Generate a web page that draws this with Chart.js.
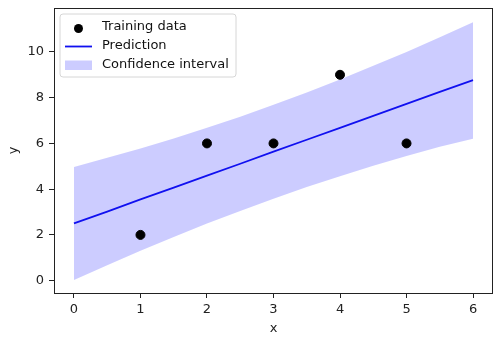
<!DOCTYPE html>
<html>
<head>
<meta charset="utf-8">
<script src="https://cdn.jsdelivr.net/npm/chart.js@4/dist/chart.umd.min.js"></script>
<style>
  html, body { margin: 0; padding: 0; background: #fff; }
  #wrap { width: 500px; height: 343px; position: relative; }
</style>
</head>
<body>
<div id="wrap"><canvas id="c" width="500" height="343"></canvas></div>
<script>
// ---- data ----
const trainX = [1, 2, 3, 4, 5];
const trainY = [2, 6, 6, 9, 6];
const gridX  = [0, 0.5, 1, 1.5, 2, 2.5, 3, 3.5, 4, 4.5, 5, 5.5, 6];
const predY  = [2.50, 3.02, 3.55, 4.07, 4.59, 5.11, 5.64, 6.16, 6.68, 7.20, 7.73, 8.25, 8.77];
const upperY = [4.97, 5.37, 5.78, 6.22, 6.68, 7.17, 7.69, 8.23, 8.79, 9.39, 10.00, 10.64, 11.30];
const lowerY = [0.03, 0.67, 1.31, 1.91, 2.50, 3.05, 3.58, 4.09, 4.56, 5.02, 5.45, 5.85, 6.20];
const xTicks = [0, 1, 2, 3, 4, 5, 6];
const yTicks = [0, 2, 4, 6, 8, 10];
const seriesLabels = ['Training data', 'Prediction', 'Confidence interval'];
const axisTitles = { x: 'x', y: 'y' };

const FONT = 'DejaVu Sans';
const pts = (xs, ys) => xs.map((x, i) => ({ x: x, y: ys[i] }));

const frameAndLegend = {
  id: 'frameAndLegend',
  afterDraw(chart) {
    const ctx = chart.ctx;
    const a = chart.chartArea;
    ctx.save();
    // spines
    ctx.strokeStyle = '#222';
    ctx.lineWidth = 1;
    ctx.strokeRect(Math.round(a.left) + 0.5, Math.round(a.top) + 0.5,
                   Math.round(a.right - a.left) - 1, Math.round(a.bottom - a.top));
    // legend box
    const bx = a.left + 6, by = a.top + 6, bw = 176, bh = 63, r = 3;
    ctx.beginPath();
    ctx.moveTo(bx + r, by);
    ctx.arcTo(bx + bw, by, bx + bw, by + bh, r);
    ctx.arcTo(bx + bw, by + bh, bx, by + bh, r);
    ctx.arcTo(bx, by + bh, bx, by, r);
    ctx.arcTo(bx, by, bx + bw, by, r);
    ctx.closePath();
    ctx.fillStyle = 'rgba(255,255,255,0.8)';
    ctx.fill();
    ctx.strokeStyle = '#d6d6d6';
    ctx.lineWidth = 1;
    ctx.stroke();
    const ds = chart.data.datasets;
    const hx0 = bx + 5, hx1 = bx + 32, tx = bx + 42;
    const rows = [by + 13, by + 32, by + 51];
    // marker
    ctx.fillStyle = ds[0].backgroundColor;
    ctx.beginPath();
    ctx.arc((hx0 + hx1) / 2, rows[0] + 1.5, 4.5, 0, Math.PI * 2);
    ctx.fill();
    // line
    ctx.strokeStyle = ds[1].borderColor;
    ctx.lineWidth = 1.8;
    ctx.beginPath();
    ctx.moveTo(hx0, rows[1] + 0.5);
    ctx.lineTo(hx1, rows[1] + 0.5);
    ctx.stroke();
    // patch
    ctx.fillStyle = ds[2].backgroundColor;
    ctx.fillRect(hx0, rows[2] - 4.5, hx1 - hx0, 9.5);
    // text
    ctx.fillStyle = '#111';
    ctx.font = '13px "' + FONT + '"';
    ctx.textBaseline = 'middle';
    ctx.textAlign = 'left';
    ctx.fillText(ds[0].label, tx, rows[0]);
    ctx.fillText(ds[1].label, tx, rows[1]);
    ctx.fillText(ds[2].label, tx, rows[2]);
    ctx.restore();
  }
};

new Chart(document.getElementById('c'), {
  type: 'line',
  data: {
    datasets: [
      {
        type: 'scatter',
        label: seriesLabels[0],
        data: pts(trainX, trainY),
        backgroundColor: '#000',
        borderColor: '#000',
        pointRadius: 4.5,
        pointHoverRadius: 4.5,
        showLine: false
      },
      {
        label: seriesLabels[1],
        data: pts(gridX, predY),
        borderColor: '#1010f0',
        borderWidth: 1.8,
        pointRadius: 0,
        fill: false,
        tension: 0
      },
      {
        label: seriesLabels[2],
        data: pts(gridX, upperY),
        borderWidth: 0,
        borderColor: 'rgba(0,0,0,0)',
        backgroundColor: 'rgba(0,0,255,0.2)',
        pointRadius: 0,
        fill: '+1',
        tension: 0
      },
      {
        label: '',
        data: pts(gridX, lowerY),
        borderWidth: 0,
        borderColor: 'rgba(0,0,0,0)',
        backgroundColor: 'rgba(0,0,255,0.2)',
        pointRadius: 0,
        fill: false,
        tension: 0
      }
    ]
  },
  options: {
    responsive: false,
    animation: false,
    events: [],
    layout: { padding: { top: 8, right: 7, left: 0, bottom: 0 } },
    plugins: { legend: { display: false }, tooltip: { enabled: false } },
    scales: {
      x: {
        type: 'linear',
        min: -0.3,
        max: 6.3,
        afterBuildTicks: s => { s.ticks = xTicks.map(v => ({ value: v })); },
        afterFit: s => { s.height = 50; s.paddingLeft = 0; s.paddingRight = 0; },
        grid: { drawOnChartArea: false, drawTicks: true, tickLength: 5, color: '#222' },
        border: { display: false },
        ticks: { color: '#222', font: { family: FONT, size: 13 }, padding: 4, maxRotation: 0,
                 callback: v => String(v) },
        title: { display: true, text: axisTitles.x, color: '#222', font: { family: FONT, size: 13 },
                 padding: { top: 0, bottom: 7 } }
      },
      y: {
        type: 'linear',
        min: -0.54,
        max: 11.92,
        afterBuildTicks: s => { s.ticks = yTicks.map(v => ({ value: v })); },
        afterFit: s => { s.width = 54; s.paddingTop = 0; s.paddingBottom = 0; },
        grid: { drawOnChartArea: false, drawTicks: true, tickLength: 5, color: '#222' },
        border: { display: false },
        ticks: { color: '#222', font: { family: FONT, size: 13 }, padding: 5,
                 callback: v => String(v) },
        title: { display: true, text: axisTitles.y, color: '#222', font: { family: FONT, size: 13 },
                 padding: { top: 6, bottom: 0 } }
      }
    }
  },
  plugins: [frameAndLegend]
});
</script>
</body>
</html>
